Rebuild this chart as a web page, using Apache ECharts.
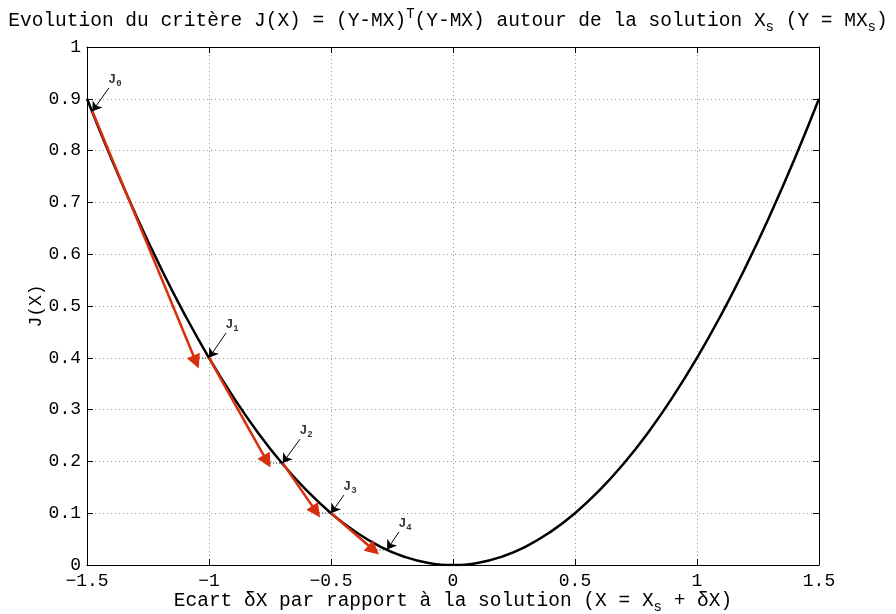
<!DOCTYPE html>
<html>
<head>
    <meta charset="utf-8">
    <title>Critère J(X)</title>
    <script src="https://cdn.jsdelivr.net/npm/echarts@6/dist/echarts.min.js"></script>
</head>
<body style="margin:0">
<div id="main" style="width:896px; height:614px;"></div>
<script type="text/javascript">
    // courbe J(X)
    var curveX = [-1.5, -1.4, -1.3, -1.2, -1.1, -1.0, -0.9, -0.8, -0.7, -0.6, -0.5, -0.4, -0.3, -0.2, -0.1, 0,
                  0.1, 0.2, 0.3, 0.4, 0.5, 0.6, 0.7, 0.8, 0.9, 1.0, 1.1, 1.2, 1.3, 1.4, 1.5];
    var curveJ = [0.9, 0.784, 0.676, 0.576, 0.484, 0.4, 0.324, 0.256, 0.196, 0.144, 0.1, 0.064, 0.036, 0.016, 0.004, 0,
                  0.004, 0.016, 0.036, 0.064, 0.1, 0.144, 0.196, 0.256, 0.324, 0.4, 0.484, 0.576, 0.676, 0.784, 0.9];

    // itérés J0..J4
    var iterX = [-1.478, -1.0, -0.698, -0.5, -0.27];
    var iterJ = [0.876, 0.4, 0.197, 0.1, 0.03];
    // extrémités des flèches rouges (pas de descente)
    var stepEndX = [-1.053, -0.762, -0.561, -0.325];
    var stepEndJ = [0.392, 0.2, 0.103, 0.029];
    // départ des flèches noires (étiquettes)
    var labelX = [-1.41, -0.93, -0.627, -0.447, -0.221];
    var labelJ = [0.921, 0.448, 0.243, 0.135, 0.064];
    var labelNames = ['0', '1', '2', '3', '4'];

    var xTicks = [-1.5, -1, -0.5, 0, 0.5, 1, 1.5];
    var yTicks = [0, 0.1, 0.2, 0.3, 0.4, 0.5, 0.6, 0.7, 0.8, 0.9, 1];

    var font = 'Liberation Mono';
    var myChart = echarts.init(document.getElementById('main'));

    var curve = curveX.map(function (x, i) { return [x, curveJ[i]]; });
    var redArrows = stepEndX.map(function (x, i) {
        return { coords: [[iterX[i], iterJ[i]], [x, stepEndJ[i]]] };
    });
    var blackArrows = labelX.map(function (x, i) {
        return { coords: [[x, labelJ[i]], [iterX[i], iterJ[i]]] };
    });
    var dots = stepEndX.map(function (x, i) {
        return { coords: [[x, iterJ[i + 1]], [iterX[i + 1], iterJ[i + 1]]] };
    });
    var labels = labelX.map(function (x, i) {
        return { value: [x, labelJ[i]], name: labelNames[i] };
    });

    function minus(v) { return String(v).replace('-', '\u2212'); }

    var gridLine = { show: true, lineStyle: { color: '#999', type: [1, 3], width: 1 } };
    var boxLine = { show: true, onZero: false, lineStyle: { color: '#000', width: 1 } };

    option = {
        animation: false,
        backgroundColor: '#fff',
        title: {
            text: 'Evolution du critère J(X) = (Y-MX){sup|T}(Y-MX) autour de la solution X{sub|s} (Y = MX{sub|s})',
            left: 'center',
            top: 2,
            textStyle: {
                fontFamily: font, fontSize: 19.5, fontWeight: 'normal', color: '#000',
                rich: {
                    sup: { fontFamily: font, fontSize: 14, color: '#000', padding: [0, 0, 12, 0] },
                    sub: { fontFamily: font, fontSize: 14, color: '#000', padding: [13, 0, 0, 0] }
                }
            }
        },
        grid: { left: 87, right: 77, top: 47, bottom: 49, outerBoundsMode: 'none' },
        xAxis: [{
            type: 'value',
            min: xTicks[0], max: xTicks[xTicks.length - 1], interval: 0.5,
            axisLine: boxLine,
            axisTick: { inside: true, length: 6, lineStyle: { color: '#000' } },
            splitLine: gridLine,
            axisLabel: { color: '#000', fontFamily: font, fontSize: 18, margin: 7, formatter: minus },
            name: 'Ecart δX par rapport à la solution (X = X{sub|s} + δX)',
            nameLocation: 'middle',
            nameMoveOverlap: false,
            nameGap: 22,
            nameTextStyle: {
                color: '#000', fontFamily: font, fontSize: 19.5,
                rich: { sub: { fontFamily: font, fontSize: 14, color: '#000', padding: [13, 0, 0, 0] } }
            }
        }, {
            type: 'value', position: 'top',
            min: xTicks[0], max: xTicks[xTicks.length - 1], interval: 0.5,
            axisLine: boxLine,
            axisTick: { inside: true, length: 6, lineStyle: { color: '#000' } },
            axisLabel: { show: false },
            splitLine: { show: false }
        }],
        yAxis: [{
            type: 'value',
            min: yTicks[0], max: yTicks[yTicks.length - 1], interval: 0.1,
            axisLine: boxLine,
            axisTick: { inside: true, length: 6, lineStyle: { color: '#000' } },
            splitLine: gridLine,
            axisLabel: { color: '#000', fontFamily: font, fontSize: 18, margin: 6 },
            name: 'J(X)',
            nameLocation: 'middle',
            nameMoveOverlap: false,
            nameGap: 42,
            nameTextStyle: { color: '#000', fontFamily: font, fontSize: 18 }
        }, {
            type: 'value', position: 'right',
            min: yTicks[0], max: yTicks[yTicks.length - 1], interval: 0.1,
            axisLine: boxLine,
            axisTick: { inside: true, length: 6, lineStyle: { color: '#000' } },
            axisLabel: { show: false },
            splitLine: { show: false }
        }],
        series: [{
            type: 'line',
            data: curve,
            smooth: true,
            showSymbol: false,
            lineStyle: { color: '#000', width: 2.5 },
            z: 3
        }, {
            type: 'lines',
            coordinateSystem: 'cartesian2d',
            data: dots,
            symbol: ['none', 'none'],
            lineStyle: { color: '#888', width: 2, type: [1, 2], opacity: 1 },
            z: 2
        }, {
            type: 'lines',
            coordinateSystem: 'cartesian2d',
            data: redArrows,
            symbol: ['none', 'triangle'],
            symbolSize: [11, 14],
            lineStyle: { color: '#d8300c', width: 2.5, opacity: 1 },
            z: 4
        }, {
            type: 'lines',
            coordinateSystem: 'cartesian2d',
            data: blackArrows,
            symbol: ['none', 'arrow'],
            symbolSize: 9,
            lineStyle: { color: '#000', width: 1, opacity: 1 },
            z: 5
        }, {
            type: 'scatter',
            data: labels,
            symbolSize: 0,
            label: {
                show: true,
                position: 'top',
                distance: 0,
                offset: [6, 0],
                formatter: function (p) { return '{j|J}{s|' + p.name + '}'; },
                rich: {
                    j: { fontFamily: font, fontSize: 13, fontWeight: 'bold', color: '#000' },
                    s: { fontFamily: font, fontSize: 9, fontWeight: 'bold', color: '#000', padding: [7, 0, 0, 0] }
                }
            },
            z: 6
        }]
    };
    myChart.setOption(option);
</script>
</body>
</html>
